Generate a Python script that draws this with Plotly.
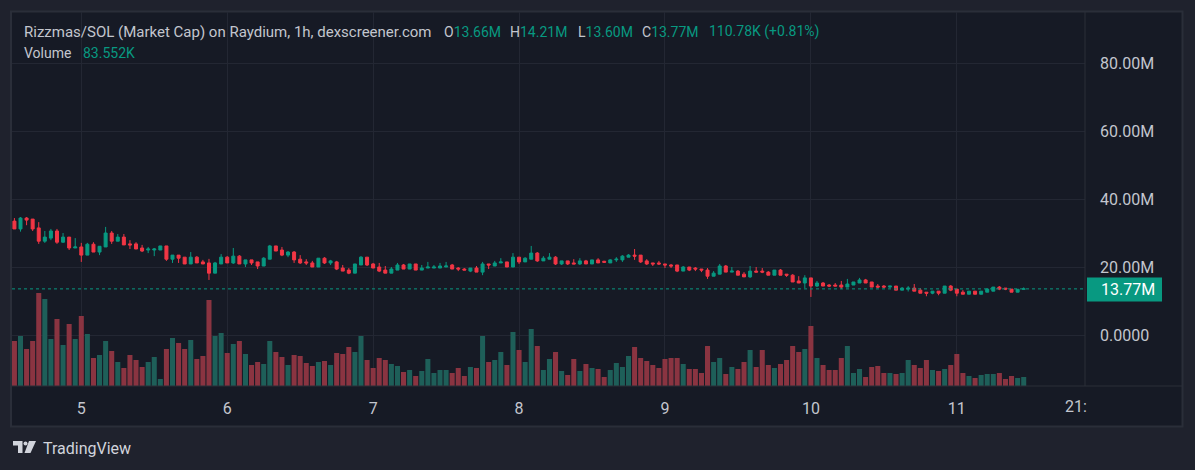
import plotly.graph_objects as go
import pandas as pd

# ---------------- data (values in millions / thousands) ----------------
start_time = "2024-12-04 13:00"
n_candles = 167

open_m = [33.7,31.4,34.6,34.3,31.7,27.8,28.7,30.8,27.5,29.0,25.8,26.1,23.7,26.9,24.6,26.1,30.2,27.8,29.0,27.0,
          27.0,25.8,25.2,25.2,25.2,26.4,22.5,23.7,23.1,21.1,23.1,21.7,21.4,18.4,21.1,23.1,21.4,23.4,21.1,22.3,
          21.7,20.5,22.5,26.4,25.2,23.7,24.6,22.5,21.7,21.4,20.2,22.8,21.4,21.7,19.9,19.3,18.4,20.8,23.1,21.1,
          20.2,19.3,18.4,19.3,20.8,19.6,21.1,19.3,19.9,19.9,19.9,20.2,20.8,19.9,19.6,19.0,19.9,18.7,21.1,20.5,
          21.4,21.7,20.2,23.1,21.7,22.5,24.3,22.0,22.5,23.1,21.1,22.0,21.4,21.1,22.0,21.1,22.3,21.9,21.4,22.3,
          22.3,23.1,23.7,23.7,22.0,21.4,21.4,21.1,20.8,20.8,19.0,20.2,19.9,19.6,19.3,17.5,18.1,20.5,18.7,19.0,
          18.1,17.3,19.0,19.0,18.7,17.8,19.3,18.1,17.8,16.1,15.5,17.0,14.6,15.5,14.9,14.9,14.9,14.3,14.9,15.5,
          16.4,15.8,14.6,14.6,14.3,14.6,13.4,13.7,14.0,13.4,12.8,12.5,13.1,12.5,14.6,13.7,12.8,12.2,13.1,12.2,
          12.8,13.1,14.3,14.0,13.7,12.8,13.66]
high_m = [34.6,34.9,34.9,34.3,33.4,30.8,31.4,31.4,30.2,29.0,28.7,27.3,27.3,27.5,26.3,32.0,30.8,29.9,29.9,28.1,
          27.5,26.7,26.1,25.8,26.4,26.4,23.7,23.7,23.1,24.6,23.4,22.3,22.6,21.7,24.0,23.4,25.8,23.7,22.3,22.3,
          21.7,23.1,26.7,26.4,26.1,24.9,24.9,23.7,22.5,22.0,22.8,23.1,22.3,22.0,20.8,19.9,21.1,23.4,23.1,21.4,
          21.4,20.5,20.2,21.4,21.1,21.1,21.1,20.8,21.7,20.8,21.4,21.7,21.1,20.2,19.9,19.9,20.5,21.7,21.1,22.0,
          22.8,21.7,24.3,23.1,23.1,26.4,24.6,23.4,24.3,23.4,22.0,22.0,22.5,22.8,22.3,22.3,22.8,22.0,22.5,23.1,
          23.7,24.0,25.5,23.7,22.5,21.4,22.0,21.1,21.1,20.8,20.5,20.2,20.2,19.6,19.9,19.0,21.1,20.8,20.2,19.3,
          18.7,20.5,20.2,19.9,19.0,19.3,19.6,18.1,18.1,17.5,17.8,17.0,16.1,15.8,15.2,15.5,16.1,16.7,15.8,17.0,
          16.7,15.8,15.2,14.9,14.6,14.6,14.3,14.6,15.2,14.0,12.8,13.1,13.1,14.6,14.9,13.7,13.4,13.1,13.1,13.1,
          14.0,14.3,14.6,14.0,13.7,13.7,14.21]
low_m = [31.4,30.6,32.5,30.8,27.0,27.3,28.1,27.0,27.3,25.2,25.8,21.7,23.7,24.6,23.7,26.1,27.0,27.8,26.7,25.5,
         25.5,24.6,24.3,23.4,25.2,22.0,21.4,21.4,21.1,21.1,21.4,21.1,16.4,18.4,21.1,21.4,21.1,21.1,20.2,20.8,
         19.6,20.5,22.5,24.9,23.4,23.1,21.4,21.1,20.8,20.2,20.2,21.1,20.8,19.3,19.0,18.1,18.4,20.8,20.5,19.9,
         18.7,18.4,18.4,19.3,19.6,19.6,19.3,19.3,19.9,19.9,19.9,20.2,19.6,19.0,19.3,18.7,18.7,17.8,19.6,20.5,
         21.4,20.2,20.2,21.1,21.7,22.5,21.7,22.0,22.5,20.8,20.8,20.8,21.1,20.8,21.1,21.1,21.4,21.4,21.4,21.7,
         21.7,23.1,22.3,21.4,20.8,20.5,20.8,19.9,19.9,18.7,19.0,19.0,19.0,18.7,16.7,17.5,18.1,18.7,18.7,17.8,
         17.3,17.0,18.7,18.4,17.8,17.8,17.8,17.3,15.8,15.5,14.0,11.4,14.3,14.6,14.3,14.6,13.7,14.3,14.9,15.5,
         15.5,14.3,14.0,14.0,14.0,13.4,13.4,13.0,13.1,12.5,11.6,12.2,11.9,12.5,13.1,11.6,12.2,12.2,12.2,12.2,
         12.8,13.1,13.4,13.4,12.8,12.8,13.60]
close_m = [31.4,34.6,34.0,31.4,27.8,29.0,30.8,27.5,29.0,25.8,26.1,23.7,26.9,24.6,26.3,30.2,27.8,29.0,26.7,26.7,
           25.5,24.9,25.5,25.5,26.4,22.5,23.7,22.8,21.1,23.1,21.4,21.1,18.4,21.4,23.1,21.4,23.4,21.1,22.3,21.4,
           20.5,22.8,26.4,24.9,23.7,24.6,22.3,21.4,21.4,20.2,22.8,21.4,22.0,19.6,19.0,18.4,21.1,23.1,20.8,19.9,
           19.0,18.4,19.6,20.8,19.6,21.1,19.3,19.9,20.2,20.2,20.5,20.5,19.6,19.6,19.3,19.9,18.7,21.1,20.8,21.4,
           21.7,20.2,23.1,21.7,22.8,24.3,22.0,22.8,23.1,21.1,22.0,21.1,21.1,22.0,21.1,22.3,21.4,21.6,22.3,22.5,
           23.4,23.7,23.4,21.7,21.1,21.1,21.1,20.8,20.5,19.0,20.2,19.3,19.6,19.3,17.5,18.4,20.5,18.7,19.0,17.8,
           17.3,19.0,18.7,18.7,17.8,19.3,17.8,17.8,15.8,15.5,17.0,14.6,15.5,14.6,14.6,14.6,14.3,15.2,15.8,16.4,
           15.5,14.3,14.3,14.3,14.6,13.4,14.0,14.0,13.1,12.5,12.5,13.1,12.5,14.6,13.4,12.5,12.2,13.1,12.2,13.1,
           13.7,14.3,13.7,13.7,12.8,13.66,13.77]
volume_k = [417.8,464.2,343.5,417.8,863.4,807.7,436.3,622.0,380.6,575.6,436.3,649.8,482.7,259.9,287.8,417.8,324.9,222.8,167.1,287.8,
            241.4,176.4,222.8,269.2,65.0,343.5,445.6,399.2,343.5,427.0,250.7,278.5,798.4,464.2,492.0,306.4,389.9,417.8,297.1,195.0,
            222.8,204.2,417.8,315.6,269.2,195.0,287.8,278.5,213.5,185.7,222.8,232.1,195.0,306.4,297.1,362.1,315.6,464.2,241.4,167.1,
            259.9,241.4,204.2,185.7,130.0,148.5,92.8,139.3,250.7,120.7,148.5,148.5,120.7,167.1,92.8,176.4,167.1,464.2,222.8,241.4,
            315.6,195.0,501.3,334.2,222.8,529.2,371.3,148.5,250.7,315.6,139.3,102.1,250.7,139.3,204.2,167.1,157.8,83.6,148.5,213.5,
            176.4,278.5,362.1,259.9,232.1,195.0,167.1,250.7,259.9,259.9,204.2,157.8,157.8,120.7,371.3,222.8,259.9,111.4,176.4,157.8,
            222.8,334.2,176.4,334.2,195.0,167.1,204.2,241.4,371.3,315.6,343.5,557.0,259.9,195.0,148.5,148.5,259.9,371.3,120.7,157.8,
            83.6,176.4,185.7,120.7,120.7,111.4,120.7,241.4,195.0,167.1,241.4,148.5,139.3,157.8,195.0,297.1,120.7,92.8,74.3,102.1,
            111.4,111.4,120.7,65.0,92.8,74.3,83.552]

day_ticks = ["2024-12-05", "2024-12-06", "2024-12-07", "2024-12-08", "2024-12-09", "2024-12-10", "2024-12-11"]
day_labels = ["5", "6", "7", "8", "9", "10", "11"]
price_ticks_m = [0, 20, 40, 60, 80]
price_labels = ["0.0000", "20.00M", "40.00M", "60.00M", "80.00M"]
last_price_m = 13.77

# ---------------- styling ----------------
UP = "#089981"
DOWN = "#f23645"
UP_VOL = "#1e5f59"
DOWN_VOL = "#8a3441"
OUTER = "#1f222d"
PANE = "#161a25"
BORDER = "#2a2e39"
GRID = "#232733"
TEXT = "#c3c6ce"
FONT = "Roboto"

W, H = 1195, 470
L, R, T, B = 12, 1085, 12, 386


def px(x):
    return (x - L) / (R - L)


def py(y):
    return (B - y) / (B - T)


times = pd.date_range(start_time, periods=n_candles, freq="h")
M = 1e6
o = [v * M for v in open_m]
h = [v * M for v in high_m]
lo = [v * M for v in low_m]
c = [v * M for v in close_m]
vol = [v * 1000 for v in volume_k]
vol_colors = [UP_VOL if cc >= oo else DOWN_VOL for oo, cc in zip(open_m, close_m)]

# y range so that 0 sits at y=335.7px and 20M spans 68px
px_per_m = 3.4
y_top = (335.7 - T) / px_per_m
y_bot = (335.7 - B) / px_per_m
# volume: tallest bar reaches 93px above the pane bottom
vol_max = max(vol)
vol_range_top = vol_max * (B - T) / 93.0

# x range: day 5 midnight at x=81.3px, 6.08 px per hour
day5 = pd.Timestamp("2024-12-05")
pph = 6.08
x_left = day5 + pd.Timedelta(hours=-(81.3 - L) / pph)
x_right = day5 + pd.Timedelta(hours=(R - 81.3) / pph)

fig = go.Figure()
fig.add_trace(go.Bar(x=times, y=vol, yaxis="y2", marker=dict(color=vol_colors, line=dict(width=0)),
                     showlegend=False, hoverinfo="skip"))
fig.add_trace(go.Candlestick(
    x=times, open=o, high=h, low=lo, close=c,
    increasing=dict(line=dict(color=UP, width=1), fillcolor=UP),
    decreasing=dict(line=dict(color=DOWN, width=1), fillcolor=DOWN),
    showlegend=False, whiskerwidth=0))

shapes = [
    # pane with border
    dict(type="rect", xref="paper", yref="paper", x0=px(11), x1=px(1182.5), y0=py(426.5), y1=py(11.5),
         fillcolor=PANE, line=dict(color=BORDER, width=2), layer="below"),
    # separators
    dict(type="line", xref="paper", yref="paper", x0=px(12), x1=px(1182), y0=py(386), y1=py(386),
         line=dict(color=BORDER, width=1)),
    dict(type="line", xref="paper", yref="paper", x0=px(1085), x1=px(1085), y0=py(386), y1=py(12),
         line=dict(color=BORDER, width=1)),
    # last price dotted line
    dict(type="line", xref="paper", yref="y", x0=0, x1=1, y0=last_price_m * M, y1=last_price_m * M,
         line=dict(color=UP, width=1, dash="dot")),
    # last price label box
    dict(type="rect", xref="paper", yref="paper", x0=px(1087), x1=px(1162), y0=py(301.5), y1=py(277.5),
         fillcolor=UP, line=dict(width=0)),
    # TradingView logo
    dict(type="path", xref="paper", yref="paper",
         path=f"M {px(13)},{py(441)} L {px(22.5)},{py(441)} L {px(22.5)},{py(453)} L {px(18)},{py(453)} "
              f"L {px(18)},{py(445.5)} L {px(13)},{py(445.5)} Z",
         fillcolor="#d1d4dc", line=dict(width=0)),
    dict(type="circle", xref="paper", yref="paper", x0=px(23.5), x1=px(27.5), y0=py(445.5), y1=py(441.5),
         fillcolor="#d1d4dc", line=dict(width=0)),
    dict(type="path", xref="paper", yref="paper",
         path=f"M {px(29)},{py(441)} L {px(36)},{py(441)} L {px(30.5)},{py(453)} L {px(24.5)},{py(453)} Z",
         fillcolor="#d1d4dc", line=dict(width=0)),
]

GREEN = UP


def ann(x, y, text, color=TEXT, size=14, anchor="left"):
    return dict(x=px(x), y=py(y), xref="paper", yref="paper", text=text, showarrow=False,
                xanchor=anchor, yanchor="middle", font=dict(family=FONT, size=size, color=color))


annotations = [
    ann(22, 32, "Rizzmas/SOL (Market Cap) on Raydium, 1h, dexscreener.com", size=15),
    ann(442, 32, f"O<span style='color:{GREEN}'>13.66M</span>"),
    ann(508, 32, f"H<span style='color:{GREEN}'>14.21M</span>"),
    ann(576, 32, f"L<span style='color:{GREEN}'>13.60M</span>"),
    ann(640, 32, f"C<span style='color:{GREEN}'>13.77M</span>"),
    ann(707, 32, "110.78K (+0.81%)", color=GREEN),
    ann(22, 53, "Volume"),
    ann(81, 53, "83.552K", color=GREEN),
    ann(1099, 289.5, "13.77M", color="#ffffff", size=16),
    ann(1063, 406, "21:", size=16),
    ann(41, 448, "TradingView", color="#d1d4dc", size=16),
]

fig.update_layout(
    width=W, height=H, autosize=False,
    margin=dict(l=L, r=W - R, t=T, b=H - B, pad=0),
    paper_bgcolor=OUTER, plot_bgcolor=PANE,
    font=dict(family=FONT, color=TEXT),
    showlegend=False, bargap=0.17, boxgap=0.3,
    shapes=shapes, annotations=annotations,
    xaxis=dict(type="date", range=[x_left, x_right], rangeslider=dict(visible=False),
               tickvals=pd.to_datetime(day_ticks), ticktext=day_labels,
               showgrid=True, gridcolor=GRID, gridwidth=1, zeroline=False, showline=False,
               ticks="", ticklabelstandoff=11, tickfont=dict(family=FONT, size=16, color=TEXT),
               fixedrange=True),
    yaxis=dict(side="right", range=[y_bot * M, y_top * M], tickvals=[v * M for v in price_ticks_m],
               ticktext=price_labels, showgrid=True, gridcolor=GRID, gridwidth=1, zeroline=False,
               showline=False, ticks="", ticklabelstandoff=14,
               tickfont=dict(family=FONT, size=16, color=TEXT)),
    yaxis2=dict(overlaying="y", range=[0, vol_range_top], visible=False, showgrid=False),
)

fig.write_html("out.html")
